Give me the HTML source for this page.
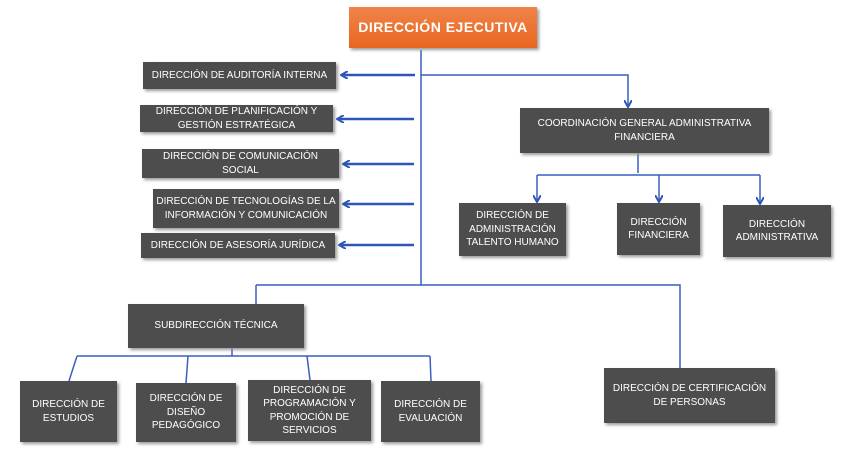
<!DOCTYPE html>
<html><head><meta charset="utf-8"><style>
body{margin:0;background:#fff;width:849px;height:460px;position:relative;overflow:hidden;font-family:"Liberation Sans",sans-serif}
.b{position:absolute;background:#4d4d4d;color:#fff;font-size:10px;display:flex;align-items:center;justify-content:center;text-align:center;line-height:1.35;box-shadow:2px 2px 3px #999}
svg{position:absolute;left:0;top:0}
</style></head><body>
<svg width="849" height="460">
<defs><marker id="a" markerWidth="8" markerHeight="8" refX="6" refY="4" orient="auto" markerUnits="userSpaceOnUse"><path d="M0,0 L7,4 L0,8" fill="none" stroke="#2e55b8" stroke-width="2"/></marker></defs>
<g stroke="#3a5fc0" stroke-width="1.5" fill="none">
<path d="M421 50 V285"/>
<path d="M421 75 H628 V106" marker-end="url(#a)"/>
<path d="M638 153 V173"/>
<path d="M537 175 H760"/>
<path d="M537 175 V201" marker-end="url(#a)"/>
<path d="M659 175 V201" marker-end="url(#a)"/>
<path d="M760 175 V203" marker-end="url(#a)"/>
<path d="M256 285 H680 V368"/>
<path d="M256 285 V304"/>
<path d="M232 348 V356 M77 356 H430 M77 356 L69 381 M188 356 L186 383 M307 356 L310 380 M430 356 L431 381"/>
</g>
<g stroke="#2e55b8" stroke-width="2.5" fill="none">
<path d="M415 75 H342" marker-end="url(#a)"/>
<path d="M414 119 H338" marker-end="url(#a)"/>
<path d="M414 164 H344" marker-end="url(#a)"/>
<path d="M414 204 H344" marker-end="url(#a)"/>
<path d="M414 245 H340" marker-end="url(#a)"/>
</g>
</svg>
<div class="b" style="left:349px;top:7px;width:188px;height:41px;background:linear-gradient(#f0844a,#e8661f);font-weight:bold;font-size:14px;letter-spacing:.5px">DIRECCIÓN EJECUTIVA</div>
<div class="b" style="left:143px;top:62px;width:193px;height:27px">DIRECCIÓN DE AUDITORÍA INTERNA</div>
<div class="b" style="left:140px;top:105px;width:193px;height:27px">DIRECCIÓN DE PLANIFICACIÓN Y<br>GESTIÓN ESTRATÉGICA</div>
<div class="b" style="left:142px;top:149px;width:197px;height:29px">DIRECCIÓN DE COMUNICACIÓN<br>SOCIAL</div>
<div class="b" style="left:153px;top:189px;width:186px;height:39px">DIRECCIÓN DE TECNOLOGÍAS DE LA<br>INFORMACIÓN Y COMUNICACIÓN</div>
<div class="b" style="left:141px;top:233px;width:194px;height:25px">DIRECCIÓN DE ASESORÍA JURÍDICA</div>
<div class="b" style="left:520px;top:108px;width:249px;height:45px">COORDINACIÓN GENERAL ADMINISTRATIVA<br>FINANCIERA</div>
<div class="b" style="left:459px;top:203px;width:107px;height:53px">DIRECCIÓN DE<br>ADMINISTRACIÓN<br>TALENTO HUMANO</div>
<div class="b" style="left:617px;top:203px;width:83px;height:52px">DIRECCIÓN<br>FINANCIERA</div>
<div class="b" style="left:723px;top:205px;width:108px;height:52px">DIRECCIÓN<br>ADMINISTRATIVA</div>
<div class="b" style="left:128px;top:304px;width:176px;height:44px">SUBDIRECCIÓN TÉCNICA</div>
<div class="b" style="left:20px;top:381px;width:97px;height:61px">DIRECCIÓN DE<br>ESTUDIOS</div>
<div class="b" style="left:136px;top:383px;width:100px;height:59px">DIRECCIÓN DE<br>DISEÑO<br>PEDAGÓGICO</div>
<div class="b" style="left:248px;top:380px;width:123px;height:61px">DIRECCIÓN DE<br>PROGRAMACIÓN Y<br>PROMOCIÓN DE<br>SERVICIOS</div>
<div class="b" style="left:381px;top:381px;width:99px;height:61px">DIRECCIÓN DE<br>EVALUACIÓN</div>
<div class="b" style="left:604px;top:368px;width:171px;height:55px">DIRECCIÓN DE CERTIFICACIÓN<br>DE PERSONAS</div>
</body></html>
